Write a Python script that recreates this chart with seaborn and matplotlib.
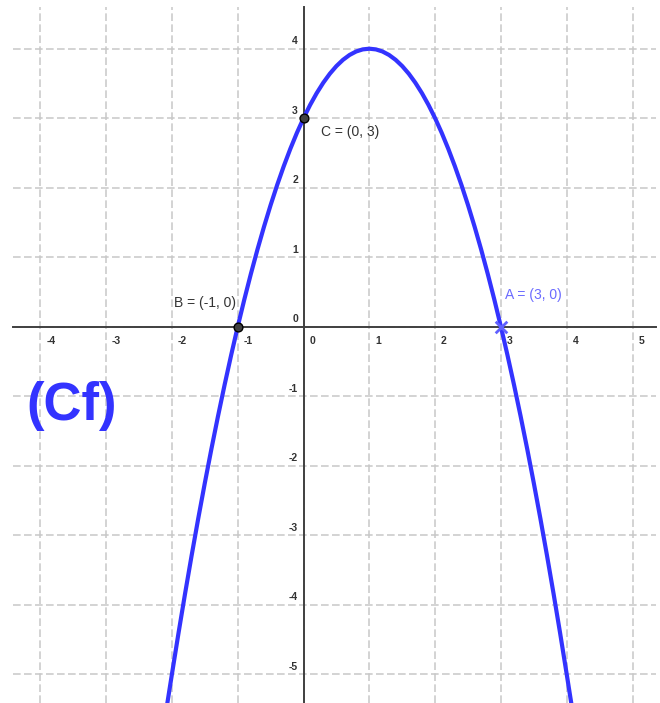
import matplotlib
matplotlib.use("Agg")
import matplotlib.pyplot as plt
import seaborn as sns
import pandas as pd

curve_x = [-2.07, -2.0, -1.9, -1.8, -1.7, -1.6, -1.5, -1.4, -1.3, -1.2, -1.1,
           -1.0, -0.9, -0.8, -0.7, -0.6, -0.5, -0.4, -0.3, -0.2, -0.1,
           0.0, 0.1, 0.2, 0.3, 0.4, 0.5, 0.6, 0.7, 0.8, 0.9,
           1.0, 1.1, 1.2, 1.3, 1.4, 1.5, 1.6, 1.7, 1.8, 1.9,
           2.0, 2.1, 2.2, 2.3, 2.4, 2.5, 2.6, 2.7, 2.8, 2.9,
           3.0, 3.1, 3.2, 3.3, 3.4, 3.5, 3.6, 3.7, 3.8, 3.9, 4.0, 4.07]
curve_y = [-5.42, -5.0, -4.41, -3.84, -3.29, -2.76, -2.25, -1.76, -1.29, -0.84, -0.41,
           0.0, 0.39, 0.76, 1.11, 1.44, 1.75, 2.04, 2.31, 2.56, 2.79,
           3.0, 3.19, 3.36, 3.51, 3.64, 3.75, 3.84, 3.91, 3.96, 3.99,
           4.0, 3.99, 3.96, 3.91, 3.84, 3.75, 3.64, 3.51, 3.36, 3.19,
           3.0, 2.79, 2.56, 2.31, 2.04, 1.75, 1.44, 1.11, 0.76, 0.39,
           0.0, -0.41, -0.84, -1.29, -1.76, -2.25, -2.76, -3.29, -3.84, -4.41, -5.0, -5.42]

pt_x = [-1, 0]
pt_y = [0, 3]
a_x = [3]
a_y = [0]

x_ticks = [-4, -3, -2, -1, 0, 1, 2, 3, 4, 5]
y_ticks = [-5, -4, -3, -2, -1, 0, 1, 2, 3, 4]

sns.set_style("white")
plt.rcParams['font.family'] = ['Liberation Sans', 'DejaVu Sans']

fig = plt.figure(figsize=(6.6, 7.03), dpi=100)
ax = fig.add_axes([13 / 660, 0.0, 643 / 660, 696 / 703])

df = pd.DataFrame({"x": curve_x, "y": curve_y})
sns.lineplot(data=df, x="x", y="y", sort=False, estimator=None, color="#3333ff",
             linewidth=3, ax=ax, zorder=3)

sns.scatterplot(x=pt_x, y=pt_y, color="#404040", edgecolor="black", s=40,
                linewidth=1, ax=ax, zorder=5)
sns.scatterplot(x=a_x, y=a_y, marker="x", color="#6060ff", s=70, linewidth=2,
                ax=ax, zorder=5)

ax.set_xlim(-4.415, 5.357)
ax.set_ylim(-5.414, 4.6)
ax.set_xticks(x_ticks)
ax.set_yticks(y_ticks)
ax.set_xlabel("")
ax.set_ylabel("")

ax.grid(True, color="#c8c8c8", linestyle=(0, (5, 2.2)), linewidth=1.1)
ax.set_axisbelow(True)

for s in ["top", "right"]:
    ax.spines[s].set_visible(False)
for s in ["left", "bottom"]:
    ax.spines[s].set_position("zero")
    ax.spines[s].set_color("#404040")
    ax.spines[s].set_linewidth(1.4)
    ax.spines[s].set_zorder(2.5)

ax.tick_params(direction="out", length=3.5, width=1, color="#404040",
               labelbottom=False, labelleft=False)

# tick labels, GeoGebra style (next to the tick, not centred)
for v in x_ticks:
    ax.annotate(str(v), (v, 0), xytext=(4.3, -10.4), textcoords="offset points",
                ha="left", va="center", fontsize=7.5, fontweight="bold", color="#333333")
for v in y_ticks:
    ax.annotate(str(v), (0, v), xytext=(-4, 5.3), textcoords="offset points",
                ha="right", va="center", fontsize=7.5, fontweight="bold", color="#333333")

ax.text(-1.968, 0.34, "B = (-1, 0)", ha="left", va="center", fontsize=10, color="#333333")
ax.text(0.266, 2.806, "C = (0, 3)", ha="left", va="center", fontsize=10, color="#333333")
ax.text(3.062, 0.456, "A = (3, 0)", ha="left", va="center", fontsize=10, color="#6b6bff")

ax.text(-4.207, -1.14, "(Cf)", ha="left", va="center", fontsize=38,
        fontweight="bold", color="#3333ff")

fig.savefig("out.png", dpi=100)
